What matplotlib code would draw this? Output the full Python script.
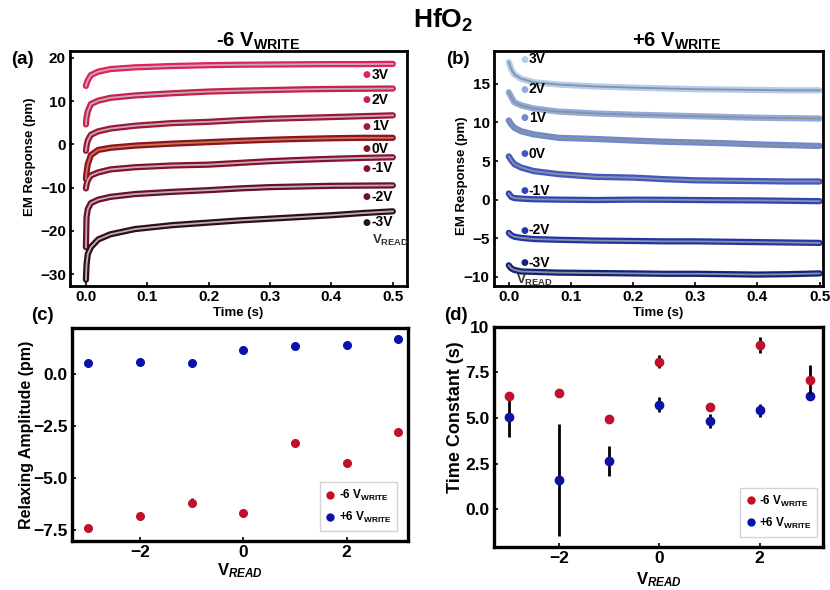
import matplotlib.pyplot as plt
from matplotlib.lines import Line2D

plt.rcParams['font.family'] = 'Liberation Sans'
plt.rcParams['font.weight'] = 'bold'
plt.rcParams['axes.labelweight'] = 'bold'
plt.rcParams['mathtext.fontset'] = 'custom'
plt.rcParams['mathtext.rm'] = 'Liberation Sans:bold'
plt.rcParams['mathtext.it'] = 'Liberation Sans:bold:italic'
plt.rcParams['mathtext.bf'] = 'Liberation Sans:bold'
plt.rcParams['xtick.direction'] = 'in'
plt.rcParams['ytick.direction'] = 'in'

# ---- panel (a): -6 V write, EM response vs time ----
read_labels = ['3V', '2V', '1V', '0V', '-1V', '-2V', '-3V']
t_neg = [0, 0.001, 0.003, 0.008, 0.02, 0.04, 0.08, 0.14, 0.2, 0.25, 0.3, 0.35, 0.4, 0.45, 0.5]
neg_p3 = [13.5, 14.0, 14.8, 16.0, 16.8, 17.4, 17.8, 18.1, 18.3, 18.4, 18.45, 18.5, 18.55, 18.55, 18.6]
neg_p2 = [4.6, 6.2, 7.6, 9.3, 10.1, 10.75, 11.3, 11.8, 12.2, 12.4, 12.55, 12.7, 12.8, 12.85, 12.9]
neg_p1 = [-1.5, -0.4, 0.9, 2.2, 3.0, 3.65, 4.3, 4.9, 5.2, 5.6, 5.9, 6.1, 6.3, 6.5, 6.7]
neg_0 = [-8.0, -6.5, -4.6, -2.5, -1.3, -0.8, -0.3, 0.15, 0.5, 0.8, 1.05, 1.25, 1.4, 1.5, 1.5]
neg_m1 = [-10.2, -9.3, -8.3, -7.2, -6.5, -5.8, -5.3, -4.9, -4.7, -4.3, -3.9, -3.6, -3.35, -3.15, -3.0]
neg_m2 = [-23.8, -16.9, -15.0, -13.6, -12.8, -12.15, -11.5, -11.0, -10.6, -10.2, -9.9, -9.75, -9.6, -9.55, -9.5]
neg_m3 = [-31.3, -27.8, -25.4, -23.8, -22.0, -20.8, -19.6, -18.7, -18.1, -17.6, -17.2, -16.8, -16.4, -15.9, -15.5]

# ---- panel (b): +6 V write ----
t_pos = [0, 0.004, 0.009, 0.02, 0.04, 0.08, 0.14, 0.2, 0.25, 0.3, 0.35, 0.4, 0.45, 0.5]
pos_p3 = [17.8, 16.9, 16.2, 15.65, 15.2, 14.9, 14.65, 14.5, 14.4, 14.3, 14.25, 14.2, 14.15, 14.15]
pos_p2 = [13.9, 13.3, 12.6, 12.2, 11.8, 11.4, 11.15, 11.0, 10.9, 10.8, 10.7, 10.6, 10.55, 10.5]
pos_p1 = [10.25, 9.75, 9.3, 8.85, 8.45, 8.0, 7.85, 7.65, 7.5, 7.4, 7.3, 7.15, 7.05, 6.95]
pos_0 = [5.6, 5.1, 4.6, 4.15, 3.7, 3.3, 2.95, 2.85, 2.65, 2.5, 2.45, 2.4, 2.35, 2.35]
pos_m1 = [0.8, 0.35, 0.2, 0.13, 0.05, 0.0, -0.05, 0.0, -0.02, -0.05, -0.08, -0.1, -0.15, -0.2]
pos_m2 = [-4.3, -4.6, -4.8, -4.95, -5.1, -5.2, -5.3, -5.35, -5.4, -5.4, -5.45, -5.5, -5.55, -5.6]
pos_m3 = [-8.5, -8.9, -9.1, -9.3, -9.35, -9.45, -9.5, -9.55, -9.6, -9.6, -9.65, -9.7, -9.65, -9.55]

# ---- panels (c), (d): fit parameters vs V_read ----
v_read = [-3, -2, -1, 0, 1, 2, 3]
amp_neg = [-7.39, -6.83, -6.19, -6.67, -3.33, -4.29, -2.77]
amp_neg_err = [0.12, 0.12, 0.22, 0.08, 0.08, 0.08, 0.08]
amp_pos = [0.54, 0.59, 0.51, 1.14, 1.33, 1.41, 1.67]
amp_pos_err = [0.05, 0.05, 0.05, 0.05, 0.05, 0.05, 0.05]
tau_neg = [6.23, 6.39, 4.95, 8.10, 5.60, 9.01, 7.11]
tau_neg_err = [0.1, 0.2, 0.1, 0.38, 0.2, 0.42, 0.78]
tau_pos = [5.05, 1.59, 2.64, 5.73, 4.82, 5.42, 6.23]
tau_pos_err = [1.08, 3.08, 0.84, 0.42, 0.38, 0.34, 0.23]

neg_colors = ['#e2215a', '#c91f4e', '#a0163a', '#8c1224', '#88102f', '#6b1029', '#2b1018']
neg_fit = ['#c0aeb4', '#c0aeb4', '#c0aeb4', '#c87848', '#c0aeb4', '#c0aeb4', '#c0aeb4']
pos_colors = ['#b2cdea', '#93aadb', '#7088d0', '#4356c2', '#3243b8', '#2434a8', '#17217a']
pos_fit = '#8593a2'
red = '#c0112b'
blue = '#0b12a8'

fig = plt.figure(figsize=(8.3, 5.9), dpi=100)
ax_a = fig.add_axes([0.0843, 0.515, 0.406, 0.398])
ax_b = fig.add_axes([0.595, 0.515, 0.397, 0.398])
ax_c = fig.add_axes([0.0867, 0.083, 0.405, 0.361])
ax_d = fig.add_axes([0.595, 0.073, 0.397, 0.373])

# (a)
neg_curves = [neg_p3, neg_p2, neg_p1, neg_0, neg_m1, neg_m2, neg_m3]
for vals, lab, col, fc in zip(neg_curves, read_labels, neg_colors, neg_fit):
    ax_a.plot(t_neg, vals, color=col, lw=4.5, solid_capstyle='round', zorder=2)
    ax_a.plot(t_neg, vals, color=fc, lw=1.3, zorder=3)
    ax_a.annotate('●', xy=(t_neg[-1], vals[-1]), xytext=(-19, -8), textcoords='offset points',
                  color=col, fontsize=6.5, family='DejaVu Sans', ha='center', va='center')
    ax_a.annotate(lab, xy=(t_neg[-1], vals[-1]), xytext=(-15, -8), textcoords='offset points',
                  fontsize=10, ha='left', va='center')
ax_a.annotate(r'V$_{\mathrm{READ}}$', xy=(t_neg[-1], neg_m3[-1]), xytext=(-15, -21),
              textcoords='offset points', fontsize=9.5, ha='left', va='center', color='#333333')
ax_a.set_xlim(-0.026, 0.523)
ax_a.set_ylim(-32.8, 21.5)
ax_a.set_xticks([0, 0.1, 0.2, 0.3, 0.4, 0.5])
ax_a.set_yticks([-30, -20, -10, 0, 10, 20])
ax_a.set_xlabel('Time (s)', fontsize=9.5, labelpad=2)
ax_a.set_ylabel('EM Response (pm)', fontsize=9.5)
ax_a.yaxis.set_label_coords(-0.1, 0.553)

# (b)
pos_curves = [pos_p3, pos_p2, pos_p1, pos_0, pos_m1, pos_m2, pos_m3]
for vals, lab, col in zip(pos_curves, read_labels, pos_colors):
    ax_b.plot(t_pos, vals, color=col, lw=4.5, solid_capstyle='round', zorder=2)
    ax_b.plot(t_pos, vals, color=pos_fit, lw=1.3, zorder=3)
    ax_b.annotate('●', xy=(t_pos[0], vals[0]), xytext=(11, 2), textcoords='offset points',
                  color=col, fontsize=6.5, family='DejaVu Sans', ha='center', va='center')
    ax_b.annotate(lab, xy=(t_pos[0], vals[0]), xytext=(14.5, 2), textcoords='offset points',
                  fontsize=10, ha='left', va='center')
ax_b.annotate(r'V$_{\mathrm{READ}}$', xy=(t_pos[0], pos_m3[0]), xytext=(5, -11),
              textcoords='offset points', fontsize=9.5, ha='left', va='center', color='#333333')
ax_b.set_xlim(-0.024, 0.506)
ax_b.set_ylim(-11.2, 19.2)
ax_b.set_xticks([0, 0.1, 0.2, 0.3, 0.4, 0.5])
ax_b.set_yticks([-10, -5, 0, 5, 10, 15])
ax_b.set_xlabel('Time (s)', fontsize=9.5, labelpad=2)
ax_b.set_ylabel('EM Response (pm)', fontsize=9.5)
ax_b.yaxis.set_label_coords(-0.078, 0.47)

for ax in (ax_a, ax_b):
    ax.tick_params(labelsize=11, length=3, width=1.2, pad=3)
    for s in ax.spines.values():
        s.set_linewidth(2)

# (c)
ax_c.errorbar(v_read, amp_pos, yerr=amp_pos_err, fmt='o', color=blue, ecolor='black',
              elinewidth=2, capsize=0, ms=5.5, zorder=3)
ax_c.errorbar(v_read, amp_neg, yerr=amp_neg_err, fmt='o', color=red, ecolor='black',
              elinewidth=2, capsize=0, ms=5.5, zorder=4)
ax_c.set_xlim(-3.32, 3.19)
ax_c.set_ylim(-8.03, 2.21)
ax_c.set_xticks([-2, 0, 2])
ax_c.set_yticks([-7.5, -5.0, -2.5, 0.0])
ax_c.set_xlabel(r'V$_{\mathit{READ}}$', fontsize=12, labelpad=1)
ax_c.set_ylabel('Relaxing Amplitude (pm)', fontsize=11.5)
ax_c.yaxis.set_label_coords(-0.113, 0.5)

# (d)
ax_d.errorbar(v_read, tau_pos, yerr=tau_pos_err, fmt='o', color=blue, ecolor='black',
              elinewidth=2, capsize=0, ms=6, zorder=3)
ax_d.errorbar(v_read, tau_neg, yerr=tau_neg_err, fmt='o', color=red, ecolor='black',
              elinewidth=2, capsize=0, ms=6, zorder=4)
ax_d.set_xlim(-3.3, 3.27)
ax_d.set_ylim(-2.07, 10)
ax_d.set_xticks([-2, 0, 2])
ax_d.set_yticks([0, 2.5, 5, 7.5, 10], ['0.0', '2.5', '5.0', '7.5', '10'])
ax_d.set_xlabel(r'V$_{\mathit{READ}}$', fontsize=12, labelpad=3)
ax_d.set_ylabel('Time Constant (s)', fontsize=13)
ax_d.yaxis.set_label_coords(-0.09, 0.59)

handles = [Line2D([], [], ls='none', marker='o', color=red, ms=5),
           Line2D([], [], ls='none', marker='o', color=blue, ms=5)]
leg_labels = [r'-6 V$_{\mathrm{WRITE}}$', r'+6 V$_{\mathrm{WRITE}}$']
for ax, anchor in ((ax_c, (0.985, 0.02)), (ax_d, (1.0, 0.02))):
    ax.tick_params(labelsize=12.5, length=3, width=1.2, pad=3)
    for s in ax.spines.values():
        s.set_linewidth(2.4)
    ax.legend(handles, leg_labels, loc='lower right', fontsize=8.5, frameon=True, fancybox=False,
              edgecolor='#c8c8c8', handlelength=0.8, handletextpad=0.3, borderpad=0.5,
              labelspacing=0.6, bbox_to_anchor=anchor)

# titles and panel letters
fig.text(0.534, 0.966, r'HfO$_2$', fontsize=19, ha='center', va='center')
fig.text(0.311, 0.93, r'-6 V$_{\mathrm{WRITE}}$', fontsize=14.5, ha='center', va='center')
fig.text(0.815, 0.93, r'+6 V$_{\mathrm{WRITE}}$', fontsize=14.5, ha='center', va='center')
fig.text(0.014, 0.9, '(a)', fontsize=13.5, ha='left', va='center')
fig.text(0.537, 0.9, '(b)', fontsize=13.5, ha='left', va='center')
fig.text(0.037, 0.466, '(c)', fontsize=13.5, ha='left', va='center')
fig.text(0.535, 0.466, '(d)', fontsize=13.5, ha='left', va='center')

fig.savefig('out.png', dpi=100)
